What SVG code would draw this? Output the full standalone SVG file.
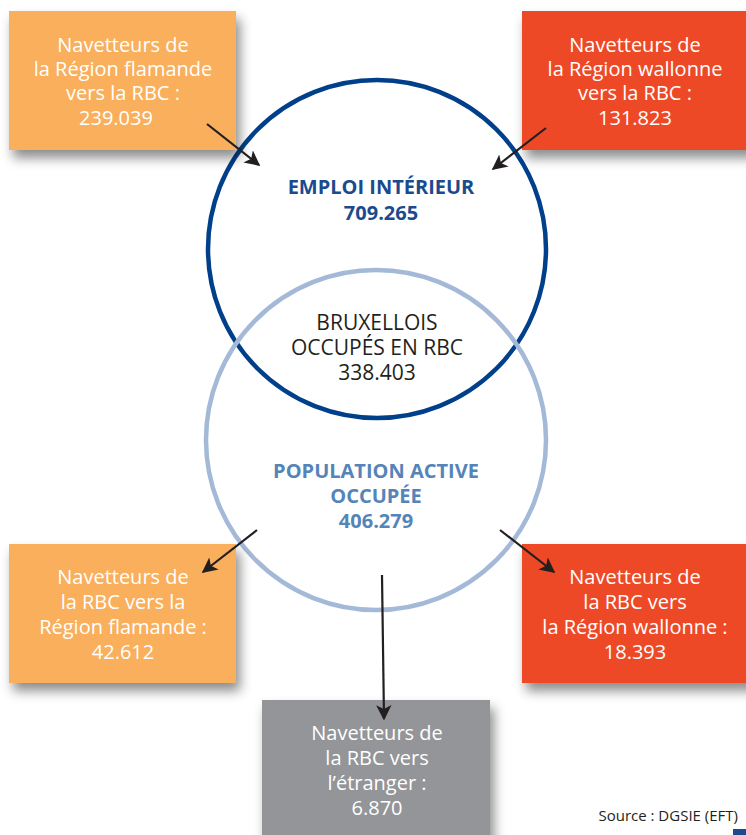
<svg xmlns="http://www.w3.org/2000/svg" width="746" height="835" viewBox="0 0 746 835">
<style>
.box{filter:url(#sh)}
.bt{font-family:"Open Sans","DejaVu Sans",sans-serif;font-size:20px;fill:#fff;text-anchor:middle}
.ct{font-family:"Open Sans","DejaVu Sans",sans-serif;font-size:20px;text-anchor:middle}
.hb{font-weight:bold;font-size:20px}
.ctl{font-size:21px}
.conn{stroke:#231F20;stroke-width:2.2;fill:none;marker-end:url(#ah)}
</style>
<defs>
<filter id="sh" x="-20%" y="-20%" width="150%" height="160%">
<feDropShadow dx="4" dy="8" stdDeviation="6" flood-color="#000" flood-opacity="0.45"/>
</filter>
<marker id="ah" viewBox="0 0 10 10" refX="9" refY="5" markerWidth="7" markerHeight="7" markerUnits="strokeWidth" orient="auto">
<path d="M0,0 L10,5 L0,10 L2.5,5 Z" fill="#231F20"/>
</marker>
</defs>
<rect width="746" height="835" fill="#fff"/>

<g id="circle-emploi">
<circle cx="377" cy="249" r="169" fill="none" stroke="#003F8A" stroke-width="4.5"/>
<text class="ct hb" x="381" y="194" fill="#1B4B8C">EMPLOI INTÉRIEUR</text>
<text class="ct hb" x="381" y="220" fill="#1B4B8C">709.265</text>
</g>
<g id="circle-population">
<circle cx="376" cy="440" r="170" fill="none" stroke="#A3B9D7" stroke-width="4.5"/>
<text class="ct hb" x="376" y="478" fill="#5584B8">POPULATION ACTIVE</text>
<text class="ct hb" x="376" y="503" fill="#5584B8">OCCUPÉE</text>
<text class="ct hb" x="376" y="528" fill="#5584B8">406.279</text>
</g>
<g id="bruxellois">
<text class="ct ctl" x="377" y="330" fill="#231F20">BRUXELLOIS</text>
<text class="ct ctl" x="377" y="355" fill="#231F20">OCCUPÉS EN RBC</text>
<text class="ct ctl" x="377" y="380" fill="#231F20">338.403</text>
</g>

<g id="box-flamande-in">
<rect class="box" x="9" y="11" width="227" height="139" fill="#F9AF5B"/>
<text class="bt" x="123" y="52">Navetteurs de</text>
<text class="bt" x="123" y="76">la Région flamande</text>
<text class="bt" x="123" y="100">vers la RBC :</text>
<text class="bt" x="116" y="125">239.039</text>
</g>
<g id="box-wallonne-in">
<rect class="box" x="522" y="11" width="230" height="139" fill="#EE4826"/>
<text class="bt" x="635" y="52">Navetteurs de</text>
<text class="bt" x="635" y="76">la Région wallonne</text>
<text class="bt" x="635" y="100">vers la RBC :</text>
<text class="bt" x="635" y="125">131.823</text>
</g>
<g id="box-flamande-out">
<rect class="box" x="9" y="544" width="227" height="139" fill="#F9AF5B"/>
<text class="bt" x="123" y="584">Navetteurs de</text>
<text class="bt" x="123" y="609">la RBC vers la</text>
<text class="bt" x="123" y="634">Région flamande :</text>
<text class="bt" x="123" y="659">42.612</text>
</g>
<g id="box-wallonne-out">
<rect class="box" x="522" y="544" width="230" height="139" fill="#EE4826"/>
<text class="bt" x="635" y="584">Navetteurs de</text>
<text class="bt" x="635" y="609">la RBC vers</text>
<text class="bt" x="635" y="634">la Région wallonne :</text>
<text class="bt" x="635" y="659">18.393</text>
</g>
<g id="box-etranger">
<rect class="box" x="262" y="700" width="228" height="145" fill="#939598"/>
<text class="bt" x="377" y="740">Navetteurs de</text>
<text class="bt" x="377" y="765">la RBC vers</text>
<text class="bt" x="377" y="790">l’étranger :</text>
<text class="bt" x="377" y="815">6.870</text>
</g>

<g id="connectors">
<line class="conn" x1="207" y1="124" x2="259" y2="165"/>
<line class="conn" x1="546" y1="128" x2="493" y2="169"/>
<line class="conn" x1="257" y1="530" x2="203" y2="572"/>
<line class="conn" x1="500" y1="530" x2="554" y2="572"/>
<line class="conn" x1="382" y1="575" x2="384" y2="719"/>
</g>

<g id="source">
<text x="738" y="821" font-family="Open Sans, DejaVu Sans, sans-serif" font-size="15" fill="#231F20" text-anchor="end">Source : DGSIE (EFT)</text>
<rect x="733" y="829" width="13" height="6" fill="#1B4B8C"/>
</g>
</svg>
